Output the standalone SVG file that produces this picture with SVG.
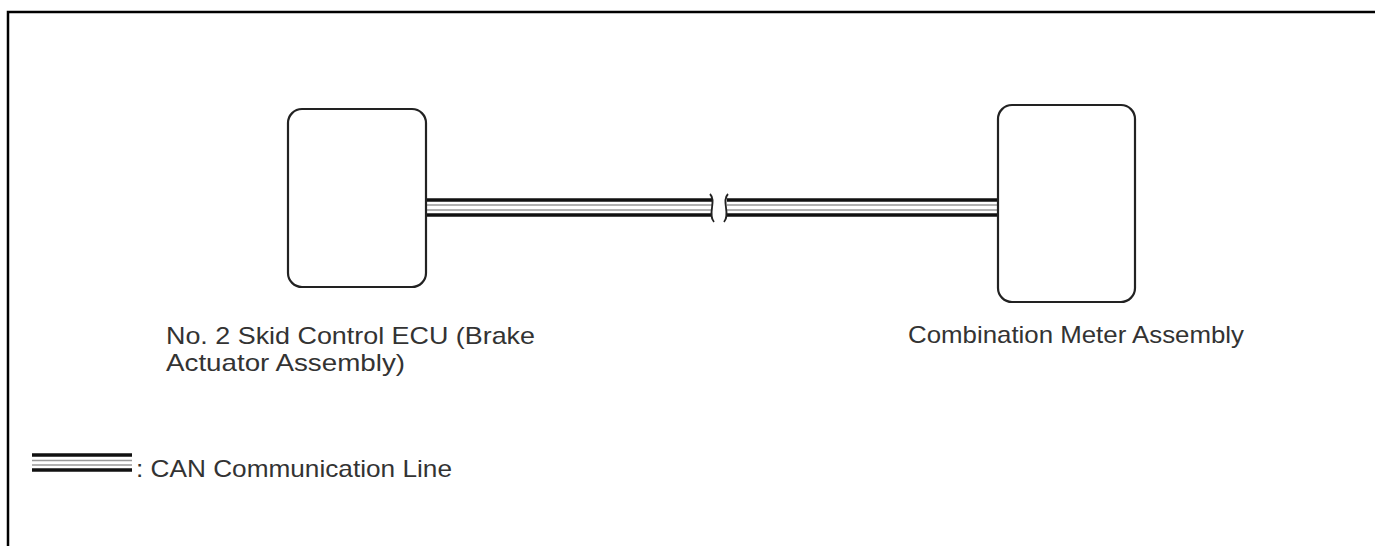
<svg xmlns="http://www.w3.org/2000/svg" width="1375" height="546" viewBox="0 0 1375 546">
  <style>
    .box { fill: #fff; stroke: #222; stroke-width: 2.2; }
    .blk { stroke: #111; stroke-width: 3.5; fill: none; }
    .gry { stroke: #999; stroke-width: 1.6; fill: none; }
    .brk { stroke: #222; stroke-width: 1.8; fill: none; }
    .lbl { font-family: "Liberation Sans", Arial, sans-serif; font-size: 24px; fill: #333; }
  </style>
  <rect width="1375" height="546" fill="#fff"/>
  <g id="frame">
    <path d="M8,546 V12 H1375" fill="none" stroke="#000" stroke-width="2.5"/>
  </g>
  <g id="connectors">
    <g id="can-left">
      <line class="blk" x1="426" y1="200" x2="712" y2="200"/>
      <line class="gry" x1="426" y1="205" x2="712" y2="205"/>
      <line class="gry" x1="426" y1="210" x2="712" y2="210"/>
      <line class="blk" x1="426" y1="215" x2="712" y2="215"/>
      <path class="brk" d="M710,194 C717,201 707,214 714,222"/>
    </g>
    <g id="can-right">
      <line class="blk" x1="727" y1="200" x2="998" y2="200"/>
      <line class="gry" x1="727" y1="205" x2="998" y2="205"/>
      <line class="gry" x1="727" y1="210" x2="998" y2="210"/>
      <line class="blk" x1="727" y1="215" x2="998" y2="215"/>
      <path class="brk" d="M728,194 C721,201 731,214 724,222"/>
    </g>
  </g>
  <g id="skid-ecu">
    <rect class="box" x="288" y="109" width="138" height="178" rx="14"/>
    <text class="lbl" x="166" y="344" textLength="369" lengthAdjust="spacingAndGlyphs">No. 2 Skid Control ECU (Brake</text>
    <text class="lbl" x="166" y="371" textLength="239" lengthAdjust="spacingAndGlyphs">Actuator Assembly)</text>
  </g>
  <g id="combination-meter">
    <rect class="box" x="998" y="105" width="137" height="197" rx="14"/>
    <text class="lbl" x="908" y="343" textLength="336" lengthAdjust="spacingAndGlyphs">Combination Meter Assembly</text>
  </g>
  <g id="legend">
    <line class="blk" x1="32" y1="455" x2="132" y2="455"/>
    <line class="gry" x1="32" y1="460.5" x2="132" y2="460.5"/>
    <line class="gry" x1="32" y1="465" x2="132" y2="465"/>
    <line class="blk" x1="32" y1="470" x2="132" y2="470"/>
    <text class="lbl" x="136" y="477" textLength="316" lengthAdjust="spacingAndGlyphs">: CAN Communication Line</text>
  </g>
</svg>
